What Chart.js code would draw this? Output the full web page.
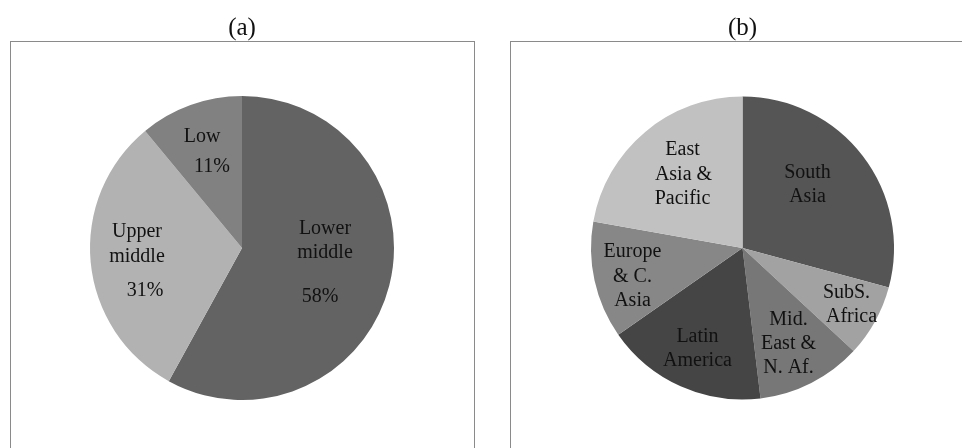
<!DOCTYPE html>
<html lang="en">

<head>
    <meta charset="UTF-8">
    <title>Pie charts (a) and (b)</title>
    <script src="https://cdn.jsdelivr.net/npm/chart.js"></script>
    <style>
        body {
            margin: 0;
            width: 962px;
            height: 448px;
            overflow: hidden;
            background: #fff;
            position: relative;
        }

        .frame {
            position: absolute;
            border: 1.5px solid #8a8a8a;
            box-sizing: border-box;
        }

        canvas {
            position: absolute;
            top: 0;
        }
    </style>
</head>

<body>
    <div class="frame" style="left: 10px; top: 41px; width: 465px; height: 430px;"></div>
    <div class="frame" style="left: 510px; top: 41px; width: 480px; height: 430px;"></div>
    <canvas id="income" width="484" height="448" style="left: 0;"></canvas>
    <canvas id="region" width="478" height="448" style="left: 484px;"></canvas>
    <script>
        // (a) income groups, percent
        const incomeGroups = ['Lower\nmiddle', 'Upper\nmiddle', 'Low'];
        const incomeShares = [58, 31, 11];
        const incomeColors = ['#636363', '#b2b2b2', '#818181'];

        // (b) regions, share
        const regions = ['South\nAsia', 'SubS.\nAfrica', 'Mid.\nEast &\nN. Af.', 'Latin\nAmerica', 'Europe\n& C.\nAsia', 'East\nAsia &\nPacific'];
        const regionShares = [29.2, 7.7, 11.2, 17.2, 12.5, 22.2];
        const regionColors = ['#555555', '#a2a2a2', '#777777', '#454545', '#878787', '#c1c1c1'];

        // label line positions relative to the pie centre (px)
        const incomeLabelPos = [
            [[83, -14], [83, 10], [78, 54]],
            [[-105, -11], [-105, 14], [-97, 48]],
            [[-40, -106], [-30, -76]]
        ];
        const regionLabelPos = [
            [[65, -70], [65, -46]],
            [[104, 50], [109, 74]],
            [[46, 77], [46, 101], [46, 125]],
            [[-45, 94], [-45, 118]],
            [[-110, 9], [-110, 34], [-110, 58]],
            [[-60, -93], [-59, -68], [-60, -44]]
        ];

        const serif = '"Liberation Serif", "Times New Roman", serif';

        const sliceLabels = {
            id: 'sliceLabels',
            afterDatasetsDraw(chart, args, opts) {
                const ctx = chart.ctx;
                const meta = chart.getDatasetMeta(0);
                ctx.save();
                ctx.font = '20px ' + serif;
                ctx.fillStyle = '#111';
                ctx.textAlign = 'center';
                ctx.textBaseline = 'alphabetic';
                meta.data.forEach((arc, i) => {
                    const lines = chart.data.labels[i].split('\n');
                    if (opts.percent) lines.push(chart.data.datasets[0].data[i] + '%');
                    lines.forEach((line, j) => {
                        const p = opts.positions[i][j];
                        ctx.fillText(line, arc.x + p[0], arc.y + p[1]);
                    });
                });
                ctx.restore();
            }
        };

        function pieChart(id, labels, values, colors, title, padding, positions, percent) {
            return new Chart(
                document.getElementById(id),
                {
                    type: 'pie',
                    data: {
                        labels: labels,
                        datasets: [
                            {
                                data: values,
                                backgroundColor: colors,
                                borderWidth: 0
                            }
                        ]
                    },
                    options: {
                        responsive: false,
                        animation: false,
                        devicePixelRatio: 1,
                        layout: { padding: padding },
                        plugins: {
                            legend: { display: false },
                            tooltip: { enabled: false },
                            title: {
                                display: true,
                                text: title,
                                color: '#111',
                                font: { family: serif, size: 25, weight: 'normal', lineHeight: 1.2 },
                                padding: { top: 0, bottom: 53 }
                            },
                            sliceLabels: { positions: positions, percent: percent }
                        }
                    },
                    plugins: [sliceLabels]
                }
            );
        }

        pieChart('income', incomeGroups, incomeShares, incomeColors, '(a)',
            { top: 13, bottom: 48, left: 90, right: 90 }, incomeLabelPos, true);
        pieChart('region', regions, regionShares, regionColors, '(b)',
            { top: 13, bottom: 48, left: 107, right: 68 }, regionLabelPos, false);
    </script>
</body>

</html>
